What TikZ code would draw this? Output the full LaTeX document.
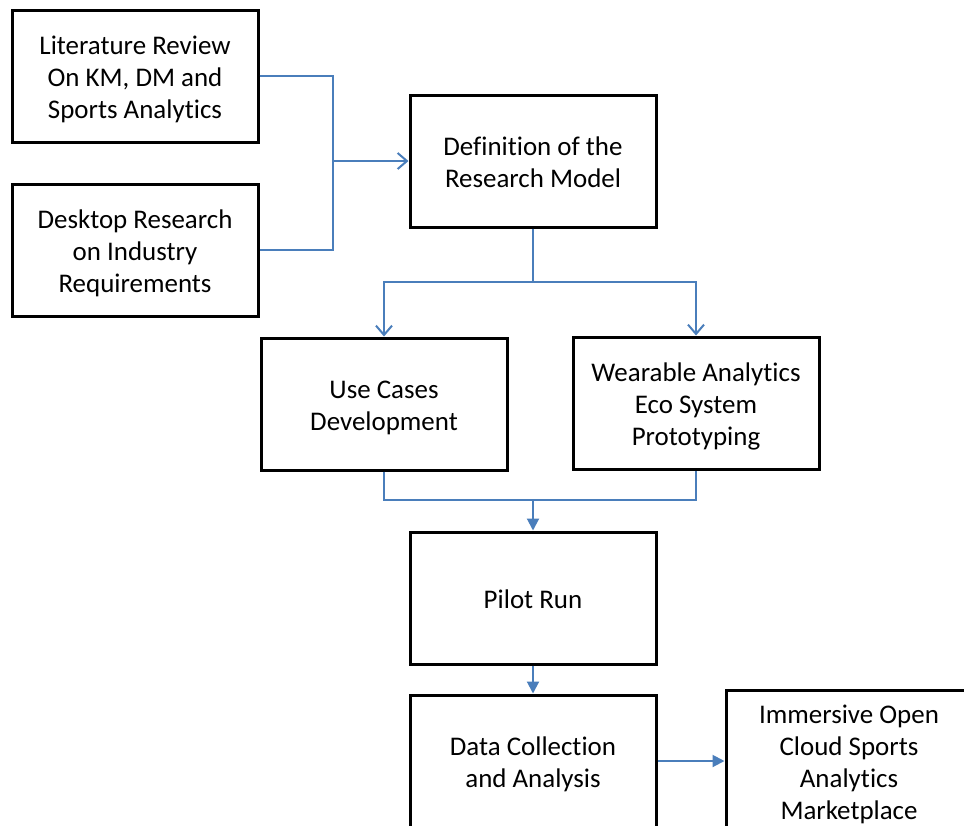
\documentclass[tikz,border=0pt]{standalone}
\usepackage{fontspec}
\setmainfont{Carlito}[Ligatures=NoCommon]
\usetikzlibrary{arrows.meta}
\definecolor{linkblue}{RGB}{74,126,187}
\newcommand{\tstrut}{\rule{0pt}{21pt}}
\newcommand{\bstrut}{\rule[-5.5pt]{0pt}{5.5pt}}

\begin{document}
\begin{tikzpicture}[x=0.75pt,y=-0.75pt,
box/.style={draw,line width=2.25pt,rectangle,align=center,minimum width=184.5pt,minimum height=99pt,
  font=\fontsize{20.2}{24}\selectfont},
link/.style={draw=linkblue,line width=1.5pt},
openarr/.style={link,-{Straight Barb[length=7pt,width=12pt]}},
fillarr/.style={link,-{Triangle[length=9pt,width=9pt]}}]
\useasboundingbox (0,0) rectangle (964,825);
\clip (0,0) rectangle (964,825);
\par
\node[box] (lit) at (135,76) {\tstrut Literature Review\\On KM, DM and\\Sports Analytics\bstrut};
\node[box] (desk) at (135,250) {\tstrut Desktop Research\\on Industry\\Requirements\bstrut};
\node[box] (def) at (533,161) {\tstrut Definition of the\\Research Model\bstrut};
\node[box] (use) at (384,404) {\tstrut Use Cases\\Development\bstrut};
\node[box] (wear) at (696,403) {\tstrut Wearable Analytics\\Eco System\\Prototyping\bstrut};
\node[box] (pilot) at (533,598) {\tstrut Pilot Run\bstrut};
\node[box] (data) at (533,761) {\tstrut Data Collection\\and Analysis\bstrut};
\node[box] (imm) at (849,761) {\tstrut Immersive Open\\Cloud Sports\\Analytics\\Marketplace\bstrut};
\par
\coordinate (join) at (333,161);
\coordinate (split) at (533,282);
\coordinate (merge) at (533,500);
\draw[link] (lit.east) -| (join) |- (desk.east);
\draw[openarr] (join) -- (def.west);
\draw[link] (def.south) -- (split);
\draw[openarr] (split) -| (use.north);
\draw[openarr] (split) -| (wear.north);
\draw[link] (use.south) |- (merge) -| (wear.south);
\draw[fillarr] (merge) -- (pilot.north);
\draw[fillarr] (pilot.south) -- (data.north);
\draw[fillarr] (data.east) -- (imm.west);
\par
\end{tikzpicture}
\end{document}
